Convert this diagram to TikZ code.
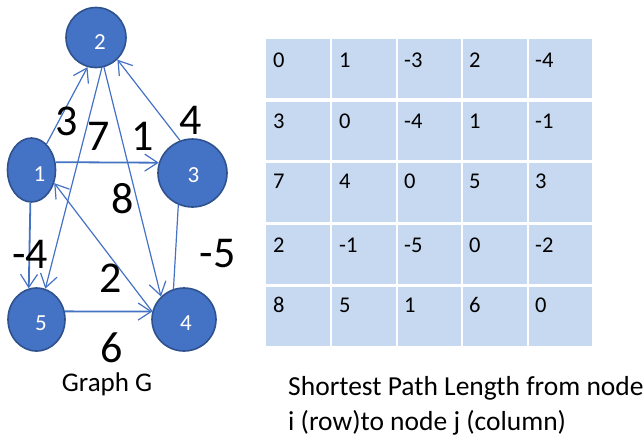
\documentclass[tikz,border=0pt]{standalone}
\usepackage{fontspec}
\setmainfont{Carlito}
\usetikzlibrary{arrows.meta,shapes.geometric}
\definecolor{nodefill}{RGB}{68,114,196}
\definecolor{nodeline}{RGB}{47,82,143}
\definecolor{edgeblue}{RGB}{68,114,196}
\definecolor{cellblue}{RGB}{199,217,240}
\begin{document}
\begin{tikzpicture}[x=1pt,y=-1pt,
  vtx/.style={ellipse, draw=nodeline, line width=1.6pt, fill=nodefill, inner sep=0pt},
  vlbl/.style={text=white, font=\fontsize{23}{23}\selectfont, inner sep=0pt},
  wt/.style={font=\fontsize{44}{44}\selectfont, inner sep=0pt},
  arr/.style={draw=edgeblue, line width=1.2pt,
    -{Straight Barb[length=13pt,width=17pt,line width=1.2pt]}},
  arrthick/.style={arr, line width=1.8pt},
  plainedge/.style={draw=edgeblue, line width=1.2pt},
  caption/.style={font=\fontsize{27}{27}\selectfont, inner sep=0pt},
  wide caption/.style={font=\fontsize{27.5}{27.5}\selectfont, inner sep=0pt},
  cell/.style={font=\fontsize{22.5}{22.5}\selectfont, inner sep=0pt, anchor=base west}
]
\useasboundingbox (0,0) rectangle (644,437);

% vertices
\node[vtx, minimum width=48pt, minimum height=64pt,
  label={[vlbl,xshift=8pt,yshift=-4pt]center:1}] (n1) at (31.5,170) {};
\node[vtx, minimum width=60pt, minimum height=60pt,
  label={[vlbl,xshift=4pt,yshift=-5pt]center:2}] (n2) at (96,37.5) {};
\node[vtx, minimum width=69pt, minimum height=68pt,
  label={[vlbl,xshift=1pt,yshift=-2pt]center:3}] (n3) at (192.5,173) {};
\node[vtx, minimum width=64pt, minimum height=63pt,
  label={[vlbl,xshift=2pt,yshift=-3.5pt]center:4}] (n4) at (184,319.5) {};
\node[vtx, minimum width=57pt, minimum height=63pt,
  label={[vlbl,xshift=4.5pt,yshift=-3.5pt]center:5}] (n5) at (36.5,319.5) {};

% directed edges
\draw[arr] (n1.60) -- (n2.254);
\draw[arrthick] (n1.18) -- (n3.163);
\draw[arrthick] (n1.268) -- (n5.104);
\draw[arr] (n2.281) -- (n5.74);
\draw[arr] (n2.285) -- (n4.135);
\draw[arr] (n3.111) -- (n2.314);
\draw[arr] (n4.166) -- (n1.330);
\draw[arrthick] (n5.16) -- (n4.166);
\draw[plainedge] (n3.246) -- (n4.109);

% edge weights
\node[wt] (wa) at (67,121) {3};
\node[wt] (wb) at (98.5,136.5) {7};
\node[wt] (wc) at (142.5,136) {1};
\node[wt] (wd) at (191,120.5) {4};
\node[wt] (we) at (123,199) {8};
\node[wt] (wf) at (30,254) {-4};
\node[wt] (wg) at (217.5,254) {-5};
\node[wt] (wh) at (111,278) {2};
\node[wt] (wi) at (112,348) {6};

\node[caption, anchor=base] (gcap) at (107,391) {Graph G};

% distance matrix
\foreach \top/\bot in {39/98,102/160,163/222,225/284,287/346}
  \foreach \lft/\rgt in {266/330,332/396,398/461,463/527,529/592}
    \fill[cellblue] (\lft,\top) rectangle (\rgt,\bot);

\foreach \bl/\a/\b/\c/\d/\e in {67/0/1/-3/2/-4, 128/3/0/-4/1/-1,
    188/7/4/0/5/3, 252/2/-1/-5/0/-2, 312/8/5/1/6/0} {
  \node[cell] (m\bl a) at (273,\bl) {\a};
  \node[cell] (m\bl b) at (339,\bl) {\b};
  \node[cell] (m\bl c) at (404,\bl) {\c};
  \node[cell] (m\bl d) at (469,\bl) {\d};
  \node[cell] (m\bl e) at (535,\bl) {\e};
}

\node[wide caption, anchor=base west] (tcap1) at (288,395) {Shortest Path Length from node};
\node[wide caption, anchor=base west] (tcap2) at (288,430) {i (row)to node j (column)};
\end{tikzpicture}
\end{document}
